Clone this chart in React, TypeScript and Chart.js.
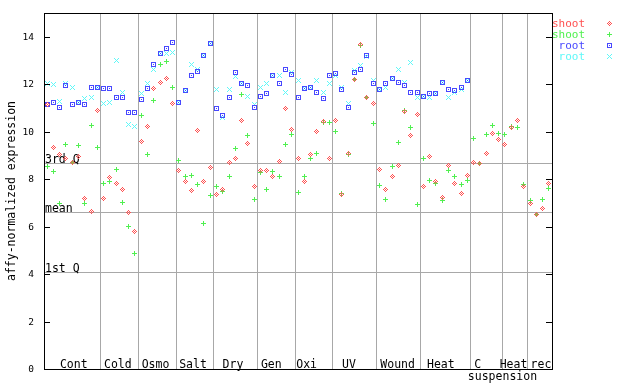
import React, { useEffect, useRef } from "react";
import { Chart, registerables } from "chart.js";

Chart.register(...registerables);

// ---- data ----
const categories = ["Cont", "Cold", "Osmo", "Salt", "Dry", "Gen", "Oxi", "UV", "Wound", "Heat", "C", "Heat", "rec"];
const groupSizes = [9, 6, 6, 6, 7, 6, 6, 7, 7, 8, 5, 4, 4];
const subLabel = "suspension";

const shootRed = [
  11.15, 9.35, 9.02, 8.89, 8.72, 8.97, 7.17, 6.65, 10.89,
  7.2, 8.05, 7.83, 7.58, 6.61, 5.81,
  9.6, 10.2, 11.8, 12.09, 12.22, 11.17,
  8.38, 7.92, 7.54, 10.03, 7.92, 8.47,
  7.37, 7.58, 8.68, 8.85, 10.45, 9.52, 7.71,
  8.38, 8.38, 8.13, 8.76, 10.96, 10.11,
  8.89, 7.88, 9.02, 10.0, 10.41, 8.85,
  10.45, 7.37, 9.06, 12.18, 13.66, 11.46, 11.17,
  8.42, 7.58, 8.13, 8.59, 10.83, 9.82, 10.74,
  7.71, 8.97, 7.92, 7.24, 8.59, 7.83, 7.41, 8.17,
  8.68, 8.64, 9.06, 9.94, 9.65,
  9.48, 10.16, 10.49, 7.71,
  6.99, 6.53, 6.78, 7.83,
];
const shootGreen = [
  8.52, 8.34, 6.99, 9.44, 8.7, 9.4, 6.99, 10.24, 9.35,
  7.83, 7.92, 8.42, 7.03, 6.02, 4.88,
  10.7, 9.02, 11.31, 12.85, 12.94, 11.84,
  8.8, 8.09, 8.17, 7.79, 6.15, 7.33,
  7.67, 7.5, 8.13, 9.27, 11.55, 9.82, 7.16,
  8.26, 7.58, 8.34, 8.13, 9.44, 9.86,
  7.45, 8.09, 8.89, 9.06, 10.37, 10.37,
  10.0, 7.41, 9.02, 12.18, 13.62, 11.46, 10.33,
  7.75, 7.16, 8.55, 9.56, 10.91, 10.16, 6.95,
  8.89, 7.96, 7.83, 7.12, 8.38, 8.13, 7.79, 7.96,
  9.73, 8.64, 9.9, 10.24, 9.94,
  9.9, 10.2, 10.16, 7.79,
  7.12, 6.49, 7.16, 7.62,
];
const rootBlue = [
  11.15, 11.25, 11.0, 11.94, 11.13, 11.21, 11.13, 11.84, 11.88,
  11.8, 11.8, 11.42, 11.42, 10.79, 10.79,
  11.34, 11.8, 12.85, 13.28, 13.49, 13.74,
  11.25, 11.72, 12.35, 12.52, 13.21, 13.71,
  10.96, 10.69, 11.42, 12.48, 12.05, 11.93, 11.0,
  11.5, 11.59, 12.35, 12.01, 12.6, 12.39,
  11.42, 11.8, 11.88, 11.67, 11.38, 12.35,
  12.43, 11.76, 11.0, 12.48, 12.6, 13.23, 12.01,
  11.76, 12.05, 12.26, 12.09, 11.93, 11.67, 11.63,
  11.5, 11.59, 11.59, 12.09, 11.76, 11.72, 11.88, 12.14,
];
const rootCyan = [
  12.05, 11.97, 11.28, 12.01, 11.84, 11.21, 11.38, 11.46, 11.88,
  11.17, 11.24, 12.98, 11.67, 10.32, 10.2,
  11.59, 12.05, 12.6, 13.28, 13.28, 13.32,
  11.25, 11.72, 12.81, 12.64, 13.21, 13.71,
  11.76, 10.6, 11.76, 12.31, 12.05, 11.5, 11.13,
  11.88, 12.01, 12.35, 12.35, 11.63, 12.48,
  12.14, 11.8, 11.88, 12.14, 11.63, 12.01,
  12.35, 11.88, 11.17, 12.56, 12.77, 13.15, 12.14,
  11.76, 11.84, 12.26, 12.6, 12.09, 12.9, 11.42,
  11.5, 11.42, 11.59, 12.09, 11.46, 11.63, 11.76, 12.14,
];
const seriesNames = ["shoot", "shoot", "root", "root"];
const yTicks = [0, 2, 4, 6, 8, 10, 12, 14];
const quartileNames = ["3rd Q", "mean", "1st Q"];
const quartileValues = [8.69, 6.61, 4.08];

// ---- layout / style ----
const COLORS = ["#ff5050", "#50f050", "#4848ff", "#60f8f8"];
const LABEL_CENTER = [4.75, 11.77, 17.78, 23.76, 30.13, 36.24, 41.88, 48.63, 56.39, 63.27, 69.17, 74.86, 79.24];
const SUB_CENTER = 73.1;
const MONO = "'DejaVu Sans Mono', monospace";

const PATTERNS: string[][] = [
  ["..X..", ".X.X.", "X.X.X", ".X.X.", "..X.."],
  ["..X..", "..X..", "XXXXX", "..X..", "..X.."],
  ["XXXXX", "X...X", "X.X.X", "X...X", "XXXXX"],
  ["X...X", ".X.X.", "..X..", ".X.X.", "X...X"],
];

function makeMarker(rows: string[], color: string): HTMLCanvasElement {
  const c = document.createElement("canvas");
  c.width = rows[0].length;
  c.height = rows.length;
  const g = c.getContext("2d")!;
  g.fillStyle = color;
  rows.forEach((r, yy) => {
    for (let xx = 0; xx < r.length; xx++) if (r[xx] === "X") g.fillRect(xx, yy, 1, 1);
  });
  return c;
}

const toPoints = (vals: number[]) => vals.map((v, i) => ({ x: i + 0.5, y: v }));

export default function App() {
  const ref = useRef<HTMLCanvasElement | null>(null);

  useEffect(() => {
    if (!ref.current) return;
    const markers = PATTERNS.map((p, i) => makeMarker(p, COLORS[i]));
    const total = groupSizes.reduce((a, b) => a + b, 0);

    const deco = {
      id: "deco",
      beforeDraw(chart: any) {
        const ctx = chart.ctx;
        ctx.save();
        ctx.fillStyle = "#ffffff";
        ctx.fillRect(0, 0, chart.width, chart.height);
        ctx.restore();
      },
      beforeDatasetsDraw(chart: any) {
        const { ctx, chartArea, scales } = chart;
        const { left, right, top, bottom } = chartArea;
        const xs = scales.x, ys = scales.y;
        ctx.save();
        ctx.strokeStyle = "#a8a8a8";
        ctx.lineWidth = 1;
        let acc = 0;
        for (let g = 0; g < groupSizes.length - 1; g++) {
          acc += groupSizes[g];
          const px = Math.round(xs.getPixelForValue(acc)) + 0.5;
          ctx.beginPath();
          ctx.moveTo(px, top);
          ctx.lineTo(px, bottom);
          ctx.stroke();
        }
        quartileValues.forEach((q) => {
          const py = Math.round(ys.getPixelForValue(q)) + 0.5;
          ctx.beginPath();
          ctx.moveTo(left, py);
          ctx.lineTo(right, py);
          ctx.stroke();
        });
        ctx.fillStyle = "#000";
        ctx.font = `11.5px ${MONO}`;
        ctx.textAlign = "left";
        ctx.textBaseline = "alphabetic";
        quartileValues.forEach((q, i) => {
          const py = Math.round(ys.getPixelForValue(q));
          ctx.fillText(quartileNames[i], left + 1, py - 0.5);
        });
        ctx.restore();
        ctx.imageSmoothingEnabled = false;
      },
      afterDatasetsDraw(chart: any) {
        const { ctx, chartArea, scales } = chart;
        const { left, right, top, bottom } = chartArea;
        const xs = scales.x, ys = scales.y;
        ctx.save();
        ctx.strokeStyle = "#000";
        ctx.lineWidth = 1;
        ctx.strokeRect(left + 0.5, top + 0.5, right - left, bottom - top);
        // y ticks
        ctx.fillStyle = "#000";
        ctx.font = `9.5px ${MONO}`;
        ctx.textAlign = "right";
        ctx.textBaseline = "middle";
        yTicks.forEach((t) => {
          const py = Math.round(ys.getPixelForValue(t)) + 0.5;
          ctx.beginPath();
          ctx.moveTo(left, py);
          ctx.lineTo(left + 6, py);
          ctx.moveTo(right - 6, py);
          ctx.lineTo(right, py);
          ctx.stroke();
          ctx.fillText(String(t), left - 10, py);
        });
        // group labels
        ctx.font = `11.5px ${MONO}`;
        ctx.textAlign = "center";
        ctx.textBaseline = "alphabetic";
        categories.forEach((c, i) => {
          ctx.fillText(c, xs.getPixelForValue(LABEL_CENTER[i]), 367.5);
        });
        ctx.fillText(subLabel, xs.getPixelForValue(SUB_CENTER), 379.5);
        // y title
        ctx.save();
        ctx.translate(12, (top + bottom) / 2);
        ctx.rotate(-Math.PI / 2);
        ctx.textAlign = "center";
        ctx.textBaseline = "middle";
        ctx.fillText("affy-normalized expression", 0, 0);
        ctx.restore();
        // legend
        ctx.font = `11px ${MONO}`;
        ctx.textAlign = "right";
        ctx.textBaseline = "alphabetic";
        seriesNames.forEach((n, i) => {
          ctx.fillStyle = COLORS[i];
          ctx.fillText(n, 585, 27 + i * 11);
          ctx.drawImage(markers[i], 607, 21 + i * 11);
        });
        ctx.restore();
      },
    };

    const chart = new Chart(ref.current, {
      type: "scatter",
      data: {
        datasets: [
          { label: "shoot", data: toPoints(shootRed), pointStyle: markers[0] as any, pointRadius: 3 },
          { label: "shoot", data: toPoints(shootGreen), pointStyle: markers[1] as any, pointRadius: 3 },
          { label: "root", data: toPoints(rootBlue), pointStyle: markers[2] as any, pointRadius: 3 },
          { label: "root", data: toPoints(rootCyan), pointStyle: markers[3] as any, pointRadius: 3 },
        ],
      },
      options: {
        animation: false,
        responsive: false,
        devicePixelRatio: 1,
        events: [],
        layout: { padding: { left: 44, right: 88, top: 13, bottom: 15 } },
        scales: {
          x: { type: "linear", min: 0, max: total, display: false },
          y: { type: "linear", min: 0, max: 15, display: false },
        },
        plugins: { legend: { display: false }, tooltip: { enabled: false } },
      },
      plugins: [deco as any],
    });
    return () => chart.destroy();
  }, []);

  return (
    <div style={{ position: "absolute", left: 0, top: 0, width: 640, height: 384, background: "#fff" }}>
      <canvas ref={ref} width={640} height={384} style={{ display: "block", width: 640, height: 384 }} />
    </div>
  );
}
